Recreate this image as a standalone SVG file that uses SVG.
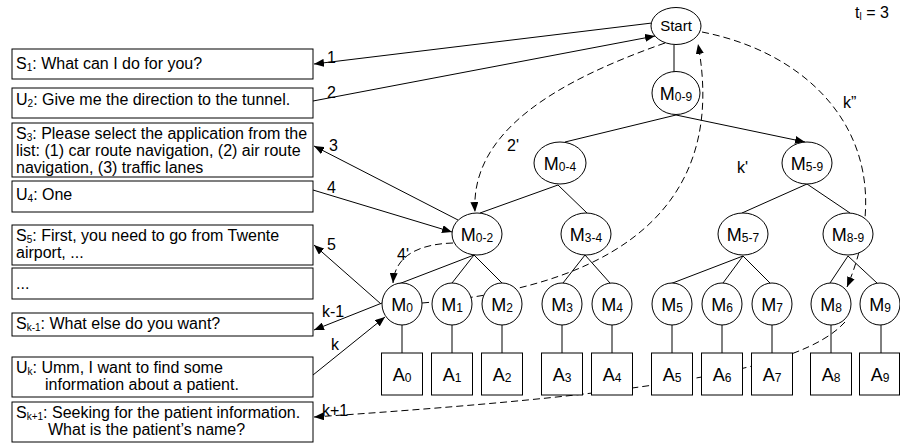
<svg xmlns="http://www.w3.org/2000/svg" width="900" height="444" viewBox="0 0 900 444">
<style>
text{font-family:"Liberation Sans",Arial,sans-serif;fill:#000}
.bx{fill:#fff;stroke:#000;stroke-width:1}
.t{font-size:16px}
.sb{font-size:10px}
.nd{fill:#fff;stroke:#000;stroke-width:1}
.ml{font-size:18px;text-anchor:middle}
.ms{font-size:12px}
.ln{fill:none;stroke:#000;stroke-width:1}
.da{fill:none;stroke:#000;stroke-width:1;stroke-dasharray:7 4}
.lb{font-size:16px}
</style>
<defs>
<marker id="ah" markerUnits="userSpaceOnUse" markerWidth="10" markerHeight="8" refX="10" refY="4" orient="auto">
<path d="M0,0 L10,4 L0,8 z" fill="#000"/>
</marker>
</defs>
<rect width="900" height="444" fill="#fff"/>

<g id="connectors">
<path class="ln" d="M674,45 L674,72"/>
<path class="ln" d="M676,115 L565,142"/>
<path class="ln" d="M676,115 L805,142" marker-end="url(#ah)"/>
<path class="ln" d="M558,185 L480,213"/>
<path class="ln" d="M558,185 L587,213"/>
<path class="ln" d="M807,184 L742,213"/>
<path class="ln" d="M807,184 L850,213"/>
<path class="ln" d="M474,255 L396,285"/>
<path class="ln" d="M474,255 L452,283"/>
<path class="ln" d="M474,255 L502,283"/>
<path class="ln" d="M585,255 L563,283"/>
<path class="ln" d="M585,255 L610,283"/>
<path class="ln" d="M743,256 L670,284"/>
<path class="ln" d="M743,256 L723,283"/>
<path class="ln" d="M743,256 L770,283"/>
<path class="ln" d="M848,256 L830,283"/>
<path class="ln" d="M848,256 L877,283"/>
<path class="ln" d="M402,325V353M452,325V353M502,325V353M562,325V353M612,325V353M672,325V353M722,325V353M772,325V353M831,325V353M881,325V353"/>
<path class="ln" d="M652,23 L314,64" marker-end="url(#ah)"/>
<path class="ln" d="M313,101 L655,36" marker-end="url(#ah)"/>
<path class="ln" d="M458,220 L314,146" marker-end="url(#ah)"/>
<path class="ln" d="M313,190 L452,232" marker-end="url(#ah)"/>
<path class="ln" d="M381,304 L314,245" marker-end="url(#ah)"/>
<path class="ln" d="M382,303 L314,330" marker-end="url(#ah)"/>
<path class="ln" d="M313,375 L385,317" marker-end="url(#ah)"/>
<path class="da" d="M665,43 C560,80 470,130 475,212" marker-end="url(#ah)"/>
<path class="da" d="M422,303 C640,285 725,190 698,44" marker-end="url(#ah)"/>
<path class="da" d="M702,32 C820,55 905,150 847,287" marker-end="url(#ah)"/>
<path class="da" d="M845,322 C800,372 640,395 314,417" marker-end="url(#ah)"/>
<path class="da" d="M453,243 C420,244 395,255 393,283" marker-end="url(#ah)"/>
<text class="lb" x="327" y="63">1</text>
<text class="lb" x="327" y="98">2</text>
<text class="lb" x="329" y="151">3</text>
<text class="lb" x="507" y="151">2'</text>
<text class="lb" x="327" y="193">4</text>
<text class="lb" x="327" y="250">5</text>
<text class="lb" x="397" y="260">4'</text>
<text class="lb" x="322" y="317">k-1</text>
<text class="lb" x="331" y="350">k</text>
<text class="lb" x="322" y="416">k+1</text>
<text class="lb" x="737" y="173">k'</text>
<text class="lb" x="843" y="108">k”</text>
</g>

<g id="tl"><text class="lb" x="855" y="18">t<tspan font-size="10" dy="2">l</tspan><tspan dy="-2"> = 3</tspan></text></g>

<g id="s1"><rect class="bx" x="12" y="49" width="301" height="30"/><text class="t" x="16" y="69">S<tspan class="sb" dy="2">1</tspan><tspan dy="-2">: What can I do for you?</tspan></text></g>
<g id="u2"><rect class="bx" x="12" y="88" width="301" height="30"/><text class="t" x="16" y="105">U<tspan class="sb" dy="2">2</tspan><tspan dy="-2">: Give me the direction to the tunnel.</tspan></text></g>
<g id="s3"><rect class="bx" x="12" y="123" width="301" height="54"/><text class="t" x="16" y="139">S<tspan class="sb" dy="2">3</tspan><tspan dy="-2">: Please select the application from the</tspan></text><text class="t" x="16" y="156">list: (1) car route navigation, (2) air route</text><text class="t" x="16" y="173">navigation, (3) traffic lanes</text></g>
<g id="u4"><rect class="bx" x="12" y="181" width="301" height="31"/><text class="t" x="16" y="200">U<tspan class="sb" dy="2">4</tspan><tspan dy="-2">: One</tspan></text></g>
<g id="s5"><rect class="bx" x="12" y="225" width="301" height="40"/><text class="t" x="16" y="241">S<tspan class="sb" dy="2">5</tspan><tspan dy="-2">: First, you need to go from Twente</tspan></text><text class="t" x="16" y="258">airport, ...</text></g>
<g id="dots"><rect class="bx" x="12" y="268" width="301" height="31"/><text class="t" x="16" y="289">...</text></g>
<g id="sk1"><rect class="bx" x="12" y="313" width="301" height="23"/><text class="t" x="16" y="329">S<tspan class="sb" dy="2">k-1</tspan><tspan dy="-2">: What else do you want?</tspan></text></g>
<g id="uk"><rect class="bx" x="12" y="357" width="301" height="40"/><text class="t" x="16" y="373">U<tspan class="sb" dy="2">k</tspan><tspan dy="-2">: Umm, I want to find some</tspan></text><text class="t" x="45" y="390">information about a patient.</text></g>
<g id="skp1"><rect class="bx" x="12" y="402" width="301" height="40"/><text class="t" x="16" y="418">S<tspan class="sb" dy="2">k+1</tspan><tspan dy="-2">: Seeking for the patient information.</tspan></text><text class="t" x="48" y="435">What is the patient’s name?</text></g>

<g id="start"><ellipse class="nd" cx="676" cy="26" rx="25" ry="18.5"/><text x="676" y="31" font-size="15" text-anchor="middle">Start</text></g>
<g id="m09"><ellipse class="nd" cx="676" cy="93" rx="24" ry="21.5"/><text class="ml" x="676" y="100">M<tspan class="ms" dy="1">0-9</tspan></text></g>
<g id="m04"><ellipse class="nd" cx="560" cy="163" rx="26" ry="21"/><text class="ml" x="560" y="170">M<tspan class="ms" dy="1">0-4</tspan></text></g>
<g id="m59"><ellipse class="nd" cx="807" cy="163" rx="25" ry="21"/><text class="ml" x="807" y="170">M<tspan class="ms" dy="1">5-9</tspan></text></g>
<g id="m02"><ellipse class="nd" cx="477" cy="234" rx="25" ry="21"/><text class="ml" x="477" y="241">M<tspan class="ms" dy="1">0-2</tspan></text></g>
<g id="m34"><ellipse class="nd" cx="586" cy="234" rx="25" ry="21"/><text class="ml" x="586" y="241">M<tspan class="ms" dy="1">3-4</tspan></text></g>
<g id="m57"><ellipse class="nd" cx="743" cy="234" rx="25" ry="21"/><text class="ml" x="743" y="241">M<tspan class="ms" dy="1">5-7</tspan></text></g>
<g id="m89"><ellipse class="nd" cx="848" cy="234" rx="25" ry="21"/><text class="ml" x="848" y="241">M<tspan class="ms" dy="1">8-9</tspan></text></g>

<g id="m0"><ellipse class="nd" cx="402" cy="304" rx="20" ry="21"/><text class="ml" x="402" y="311">M<tspan class="ms" dy="1">0</tspan></text></g>
<g id="m1"><ellipse class="nd" cx="452" cy="304" rx="20" ry="21"/><text class="ml" x="452" y="311">M<tspan class="ms" dy="1">1</tspan></text></g>
<g id="m2"><ellipse class="nd" cx="502" cy="304" rx="20" ry="21"/><text class="ml" x="502" y="311">M<tspan class="ms" dy="1">2</tspan></text></g>
<g id="m3"><ellipse class="nd" cx="562" cy="304" rx="20" ry="21"/><text class="ml" x="562" y="311">M<tspan class="ms" dy="1">3</tspan></text></g>
<g id="m4"><ellipse class="nd" cx="612" cy="304" rx="20" ry="21"/><text class="ml" x="612" y="311">M<tspan class="ms" dy="1">4</tspan></text></g>
<g id="m5"><ellipse class="nd" cx="672" cy="304" rx="20" ry="21"/><text class="ml" x="672" y="311">M<tspan class="ms" dy="1">5</tspan></text></g>
<g id="m6"><ellipse class="nd" cx="722" cy="304" rx="20" ry="21"/><text class="ml" x="722" y="311">M<tspan class="ms" dy="1">6</tspan></text></g>
<g id="m7"><ellipse class="nd" cx="772" cy="304" rx="20" ry="21"/><text class="ml" x="772" y="311">M<tspan class="ms" dy="1">7</tspan></text></g>
<g id="m8"><ellipse class="nd" cx="831" cy="304" rx="20" ry="21"/><text class="ml" x="831" y="311">M<tspan class="ms" dy="1">8</tspan></text></g>
<g id="m9"><ellipse class="nd" cx="880" cy="304" rx="20" ry="21"/><text class="ml" x="880" y="311">M<tspan class="ms" dy="1">9</tspan></text></g>

<g id="a0"><rect class="bx" x="381.5" y="353" width="41" height="42"/><text class="ml" x="402" y="381">A<tspan class="ms" dy="1">0</tspan></text></g>
<g id="a1"><rect class="bx" x="431.5" y="353" width="41" height="42"/><text class="ml" x="452" y="381">A<tspan class="ms" dy="1">1</tspan></text></g>
<g id="a2"><rect class="bx" x="481.5" y="353" width="41" height="42"/><text class="ml" x="502" y="381">A<tspan class="ms" dy="1">2</tspan></text></g>
<g id="a3"><rect class="bx" x="541.5" y="353" width="41" height="42"/><text class="ml" x="562" y="381">A<tspan class="ms" dy="1">3</tspan></text></g>
<g id="a4"><rect class="bx" x="591.5" y="353" width="41" height="42"/><text class="ml" x="612" y="381">A<tspan class="ms" dy="1">4</tspan></text></g>
<g id="a5"><rect class="bx" x="651.5" y="353" width="41" height="42"/><text class="ml" x="672" y="381">A<tspan class="ms" dy="1">5</tspan></text></g>
<g id="a6"><rect class="bx" x="701.5" y="353" width="41" height="42"/><text class="ml" x="722" y="381">A<tspan class="ms" dy="1">6</tspan></text></g>
<g id="a7"><rect class="bx" x="751.5" y="353" width="41" height="42"/><text class="ml" x="772" y="381">A<tspan class="ms" dy="1">7</tspan></text></g>
<g id="a8"><rect class="bx" x="810.5" y="353" width="41" height="42"/><text class="ml" x="831" y="381">A<tspan class="ms" dy="1">8</tspan></text></g>
<g id="a9"><rect class="bx" x="859.5" y="353" width="40" height="42"/><text class="ml" x="880" y="381">A<tspan class="ms" dy="1">9</tspan></text></g>
</svg>
